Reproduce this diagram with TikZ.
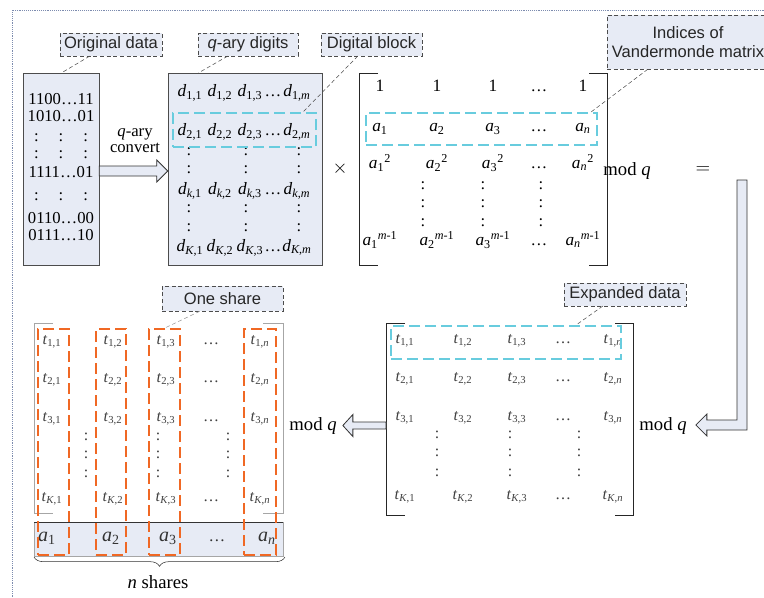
\documentclass[tikz,border=0pt]{standalone}
\usepackage{fontspec}
\setmainfont{Liberation Serif}
\setsansfont{Liberation Sans}
\usepackage{tikz}
\usetikzlibrary{calc,decorations.pathreplacing}

\definecolor{boxfill}{RGB}{231,235,245}
\definecolor{vcyan}{RGB}{104,204,222}
\definecolor{shareorange}{RGB}{240,104,36}
\definecolor{framegray}{RGB}{125,140,175}

\newcommand{\entryfont}{\fontsize{12.5}{14}\selectfont}
\newcommand{\tfont}{\fontsize{12}{13}\selectfont}
\newcommand{\bigfont}{\fontsize{14}{16}\selectfont}
\newcommand{\dotrow}{:\hspace{15pt}:\hspace{15pt}:}

\tikzset{
  every node/.style={inner sep=0pt, font=\entryfont, text height=1.6ex, text depth=0.45ex},
  tag/.style={draw=black!70, densely dashed, fill=boxfill, text=black!85, text height=, text depth=,
    font=\sffamily\fontsize{12.4}{14.5}\selectfont, minimum height=17pt, inner xsep=3pt},
  pointer/.style={draw=black!70, densely dashed, thin},
  datablock/.style={draw=black!70, fill=boxfill},
  bracket/.style={draw=black!85, line width=0.7pt},
  rowbox/.style={draw=vcyan, line width=1.2pt, dash pattern=on 8pt off 4pt},
  sharebox/.style={draw=shareorange, line width=1.3pt, dash pattern=on 8pt off 4pt},
  hollow/.style={draw=black!80, fill=boxfill, line width=0.6pt},
  mentry/.style={font=\fontsize{13}{15}\selectfont},
  tentry/.style={font=\tfont, text=black!75},
}

\begin{document}
\begin{tikzpicture}[x=0.75pt,y=-0.75pt]
\useasboundingbox (0,0) rectangle (764,597);

% frame
\draw[framegray, densely dotted] (12,597) -- (12,10) -- (764,10);

% original data
\node[datablock, minimum width=57pt, minimum height=144pt] (orig) at (61,169) {};
\foreach \txt/\y [count=\i] in {1100\ldots11/101, 1010\ldots01/118, \dotrow/138, \dotrow/155,
    1111\ldots01/174, \dotrow/197, 0110\ldots00/220, 0111\ldots10/237}
  \node (bits\i) at (61,\y) {\txt};
\node (conv1) at (135,133) {\textit{q}-ary};
\node (conv2) at (135,149) {convert};

% q-ary digits
\node[datablock, minimum width=115.5pt, minimum height=144pt] (digits) at (245,169) {};
\foreach \r/\rn/\y in {1/1/93, 2/2/132, \textit{k}/k/191, \textit{K}/K/248} {
  \foreach \c/\cn/\x in {1/1/190, 2/2/220, 3/3/250, \textit{m}/m/297}
    \node[mentry] (d-\rn-\cn) at (\x,\y) {\textit{d}\textsubscript{\r,\c}};
  \node (d-\rn-dots) at (273,\y) {\ldots};
}
\foreach \x in {189,246,299}
  \foreach \y in {152,170,209,228}
    \node (dd-\x-\y) at (\x,\y) {:};
\node[rowbox, minimum width=107.25pt, minimum height=25.5pt] (block) at (244.5,130) {};

\node (times) at (340,170) {\bigfont$\times$};

% Vandermonde matrix
\draw[bracket] (378,73) -- (359,73) -- (359,265) -- (378,265);
\draw[bracket] (589,73) -- (607,73) -- (607,265) -- (589,265);
\foreach \c/\cn/\x in {1/1/380, 2/2/437, 3/3/493, \textit{n}/n/583} {
  \node[mentry] (v-1-\cn) at (\x,88) {1};
  \node[mentry] (v-a-\cn) at (\x,128) {\textit{a}\textsubscript{\c}};
  \node[mentry] (v-b-\cn) at (\x,165) {\textit{a}\textsubscript{\c}\textsuperscript{2}};
  \node[mentry] (v-m-\cn) at (\x,242) {\textit{a}\textsubscript{\c}\textsuperscript{\textit{m}-1}};
}
\foreach \y [count=\i] in {88,128,165,242}
  \node (v-dots\i) at (539,\y) {\ldots};
\foreach \x in {423,483,541}
  \foreach \y in {186,204,223}
    \node (vd-\x-\y) at (\x,\y) {:};
\node[rowbox, minimum width=173.25pt, minimum height=24pt] (vrow) at (481.5,129) {};

\node (modv) at (627,172) {\bigfont mod \textit{q}};
\node (eq) at (703,170) {\bigfont$=$};

% expanded data
\draw[bracket] (405,323) -- (386,323) -- (386,515) -- (405,515);
\draw[bracket] (615,323) -- (633,323) -- (633,515) -- (615,515);
\foreach \r/\rn/\y in {1/1/340, 2/2/378, 3/3/417, \textit{K}/K/496} {
  \foreach \c/\cn/\x in {1/1/405, 2/2/463, 3/3/517, \textit{n}/n/613}
    \node[tentry] (x-\rn-\cn) at (\x,\y) {\textit{t}\textsubscript{\r,\c}};
  \node[tentry] (x-\rn-dots) at (563,\y) {\ldots};
}
\foreach \x in {437,510,579}
  \foreach \y in {435,453,473}
    \node[tentry] (xd-\x-\y) at (\x,\y) {:};
\node[rowbox, minimum width=172.5pt, minimum height=24.75pt] (xrow) at (506,342.5) {};

\node (modr) at (663,427) {\bigfont mod \textit{q}};
\node (modl) at (313,427) {\bigfont mod \textit{q}};

% shares
\draw[black!35] (53,323) -- (34,323) -- (34,513) -- (53,513);
\draw[black!35] (263,323) -- (283,323) -- (283,513) -- (263,513);
\filldraw[fill=boxfill, draw=black!35] (34,522) rectangle (283,556);
\draw[black!80] (34,522) -- (283,522);
\foreach \r/\rn/\y in {1/1/341, 2/2/379, 3/3/418, \textit{K}/K/498} {
  \foreach \c/\cn/\x in {1/1/52, 2/2/113, 3/3/166, \textit{n}/n/260}
    \node[tentry] (s-\rn-\cn) at (\x,\y) {\textit{t}\textsubscript{\r,\c}};
  \node[tentry] (s-\rn-dots) at (211,\y) {\ldots};
}
\foreach \x in {86,158,228}
  \foreach \y in {437,455,474}
    \node[tentry] (sd-\x-\y) at (\x,\y) {:};
\foreach \c/\cn/\x in {1/1/47, 2/2/111, 3/3/168, \textit{n}/n/267}
  \node[text=black!80] (key-\cn) at (\x,538) {\fontsize{15}{17}\selectfont\textit{a}\textsubscript{\c}};
\node[text=black!80] (key-dots) at (217,538) {\ldots};
\foreach \c/\l/\r in {1/38/69,2/96/126,3/149/180,n/244/276}
  \node[sharebox, minimum width={(\r-\l)*0.75pt}, minimum height=169.5pt] (share\c) at ({(\l+\r)/2},442) {};
\draw[black!80, decorate, decoration={brace, mirror, amplitude=7pt}] (34,557) -- (285,557);
\node (nshares) at (158,585) {\bigfont\textit{n} shares};

% arrows
\coordinate (qs) at ($(orig.east)+(0,2)$);
\coordinate (qt) at (digits.west |- qs);
\filldraw[hollow] ($(qs)+(0,-5)$) -- ($(qt)+(-11,-5)$) -- ($(qt)+(-11,-11)$) -- (qt)
  -- ($(qt)+(-11,11)$) -- ($(qt)+(-11,5)$) -- ($(qs)+(0,5)$) -- cycle;
\coordinate (ls) at (386,425.5);
\coordinate (lt) at ($(modl.east)+(6,0)$);
\filldraw[hollow] ($(ls)+(0,-3.5)$) -- ($(lt |- ls)+(10,-3.5)$) -- ($(lt |- ls)+(10,-11)$) -- (lt |- ls)
  -- ($(lt |- ls)+(10,11)$) -- ($(lt |- ls)+(10,3.5)$) -- ($(ls)+(0,3.5)$) -- cycle;
\coordinate (bt) at ($(modr.east)+(9,-2)$);
\filldraw[hollow] (737,180) -- (737,420) -- ($(bt)+(11,-5)$) -- ($(bt)+(11,-11)$) -- (bt)
  -- ($(bt)+(11,11)$) -- ($(bt)+(11,5)$) -- (747,430) -- (747,180) -- cycle;

% labels
\node[tag, minimum width=76.5pt] (lorig) at (111,44.5) {Original data};
\node[tag, minimum width=75pt] (ldig) at (248,44.5) {\textit{q}-ary digits};
\node[tag, minimum width=75.75pt] (lblock) at (371.5,44.5) {Digital block};
\node[tag, align=center, minimum width=121.5pt, minimum height=40.5pt] (lind) at (688,42) {Indices of\\Vandermonde matrix};
\node[tag, minimum width=91.5pt] (lexp) at (625,294.5) {Expanded data};
\node[tag, minimum width=90.75pt, minimum height=18.75pt] (lshare) at (222.5,298.5) {One share};

\draw[pointer] ($(lorig.south west)+(30,0)$) -- ($(orig.north west)+(39,0)$);
\draw[pointer] ($(ldig.south west)+(30,0)$) -- ($(digits.north west)+(31,0)$);
\draw[pointer] ($(lblock.south west)+(37,0)$) -- ($(block.north east)+(-14,0)$);
\draw[pointer] ($(lind.south west)+(41,0)$) -- ($(vrow.north east)+(-7,0)$);
\draw[pointer] ($(lexp.south west)+(39,0)$) -- ($(xrow.north east)+(-46,0)$);
\draw[pointer, black!40] ($(lshare.south west)+(38,0)$) -- (share3.north);
\end{tikzpicture}
\end{document}
